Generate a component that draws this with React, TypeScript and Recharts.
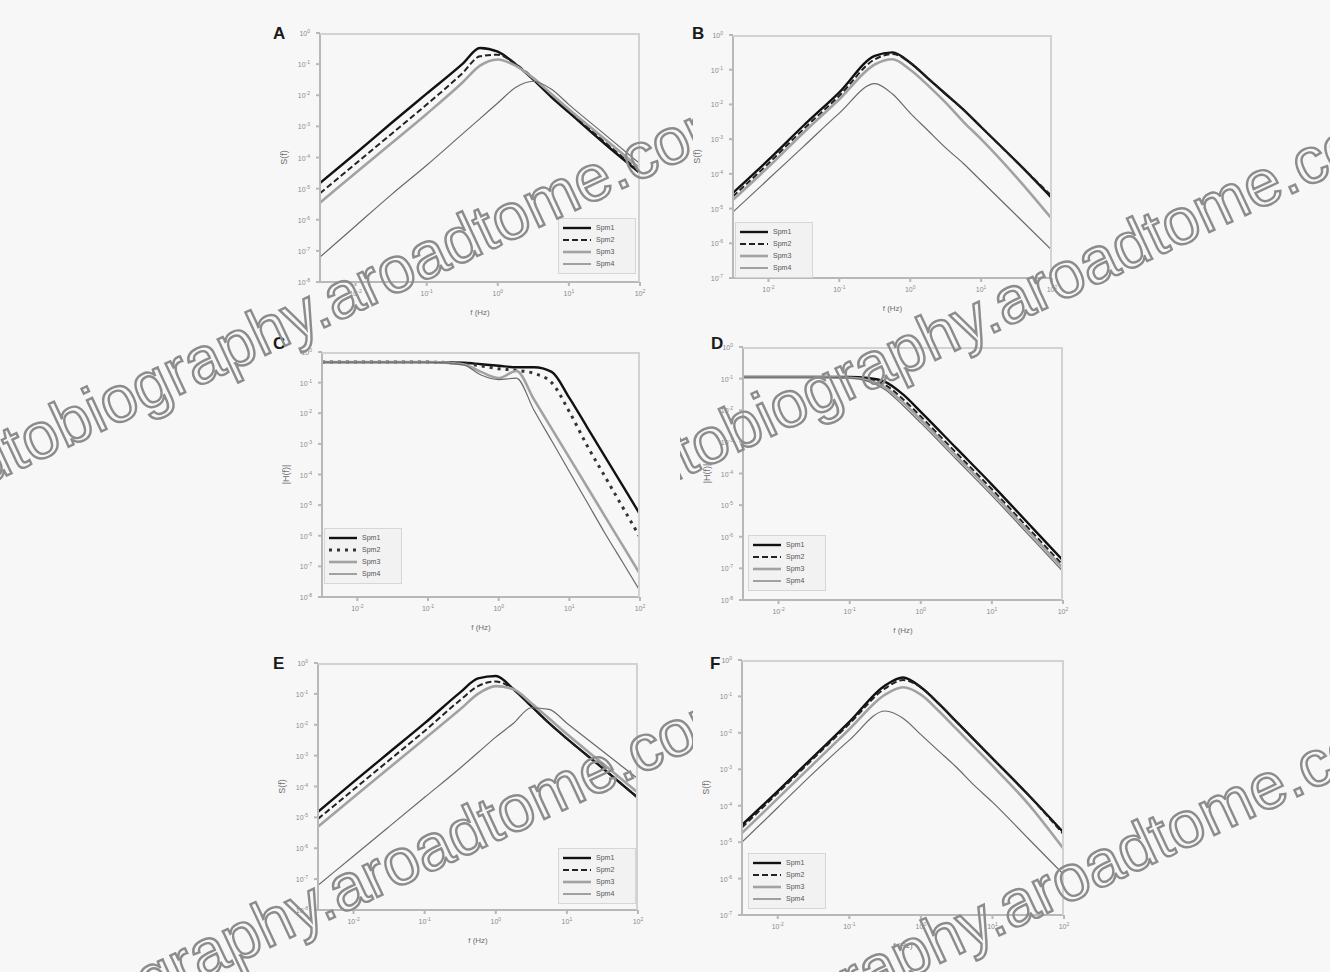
import React from 'react';
import { LineChart, Line, XAxis, YAxis } from 'recharts';

const FONT = '"Liberation Sans", Arial, sans-serif';

// ---------- data (log10 values) ----------
const seriesNames = ['Spm1', 'Spm2', 'Spm3', 'Spm4'];
const xTickExponents = [-2, -1, 0, 1, 2];
const yTicksEight = [-8, -7, -6, -5, -4, -3, -2, -1, 0];
const yTicksSeven = [-7, -6, -5, -4, -3, -2, -1, 0];
const xLabel = 'f (Hz)';
const yLabelSpectrum = 'S(f)';
const yLabelGain = '|H(f)|';

const logFreqPeak = [-2.5, -2, -1.5, -1, -0.5, -0.25, 0, 0.25, 0.5, 0.75, 1, 1.5, 2];
const logFreqC = [-2.5, -2, -1.5, -1, -0.5, -0.25, 0, 0.25, 0.5, 0.75, 1, 1.25, 1.5, 1.75, 2];
const logFreqD = [-2.5, -2, -1.5, -1, -0.75, -0.5, -0.25, 0, 0.5, 1, 1.5, 2];

const a1 = [-4.82, -3.87, -2.9, -1.95, -1.0, -0.48, -0.6, -1.0, -1.5, -2.05, -2.55, -3.55, -4.5];
const a2 = [-5.15, -4.2, -3.25, -2.3, -1.3, -0.75, -0.7, -1.0, -1.45, -2.0, -2.5, -3.5, -4.45];
const a3 = [-5.45, -4.5, -3.55, -2.6, -1.6, -1.05, -0.85, -1.05, -1.45, -1.95, -2.45, -3.4, -4.35];
const a4 = [-7.2, -6.2, -5.2, -4.25, -3.25, -2.75, -2.25, -1.75, -1.55, -1.8, -2.3, -3.25, -4.2];

const b1 = [-4.55, -3.6, -2.6, -1.65, -0.6, -0.5, -0.8, -1.25, -1.7, -2.15, -2.65, -3.65, -4.7];
const b2 = [-4.65, -3.7, -2.7, -1.75, -0.7, -0.55, -0.8, -1.25, -1.7, -2.15, -2.65, -3.65, -4.65];
const b3 = [-4.75, -3.8, -2.8, -1.85, -0.85, -0.7, -1.0, -1.45, -1.95, -2.5, -3.0, -4.1, -5.3];
const b4 = [-5.1, -4.15, -3.2, -2.25, -1.4, -1.7, -2.25, -2.75, -3.25, -3.7, -4.2, -5.2, -6.2];

const c1 = [-0.33, -0.33, -0.33, -0.33, -0.35, -0.4, -0.45, -0.5, -0.5, -0.65, -1.5, -2.45, -3.4, -4.35, -5.3];
const c2 = [-0.33, -0.33, -0.33, -0.33, -0.38, -0.45, -0.55, -0.6, -0.7, -1.0, -1.95, -3.05, -4.05, -5.05, -6.05];
const c3 = [-0.33, -0.33, -0.33, -0.33, -0.4, -0.65, -0.85, -0.62, -1.55, -2.5, -3.45, -4.4, -5.35, -6.3, -7.25];
const c4 = [-0.33, -0.33, -0.33, -0.33, -0.42, -0.75, -0.9, -0.85, -1.9, -2.9, -3.9, -4.9, -5.9, -6.85, -7.8];

const d1 = [-0.95, -0.95, -0.95, -0.95, -0.98, -1.1, -1.5, -2.05, -3.2, -4.35, -5.55, -6.75];
const d2 = [-0.95, -0.95, -0.95, -0.96, -1.02, -1.2, -1.65, -2.2, -3.35, -4.5, -5.7, -6.9];
const d3 = [-0.95, -0.95, -0.95, -0.97, -1.05, -1.28, -1.75, -2.3, -3.45, -4.6, -5.8, -7.0];
const d4 = [-0.95, -0.95, -0.95, -0.98, -1.08, -1.35, -1.85, -2.4, -3.55, -4.7, -5.9, -7.1];

const e1 = [-4.82, -3.85, -2.9, -1.95, -0.95, -0.5, -0.42, -0.85, -1.4, -1.95, -2.45, -3.4, -4.37];
const e2 = [-5.05, -4.1, -3.15, -2.2, -1.2, -0.75, -0.6, -0.85, -1.4, -1.95, -2.45, -3.4, -4.37];
const e3 = [-5.3, -4.35, -3.4, -2.45, -1.5, -1.0, -0.75, -0.85, -1.3, -1.8, -2.3, -3.25, -4.2];
const e4 = [-7.2, -6.25, -5.3, -4.35, -3.4, -2.9, -2.4, -1.95, -1.45, -1.5, -1.95, -2.85, -3.75];

const f1 = [-4.53, -3.6, -2.65, -1.7, -0.7, -0.48, -0.75, -1.2, -1.7, -2.2, -2.7, -3.7, -4.75];
const f2 = [-4.6, -3.65, -2.7, -1.75, -0.78, -0.55, -0.75, -1.2, -1.7, -2.2, -2.7, -3.7, -4.8];
const f3 = [-4.75, -3.8, -2.85, -1.9, -0.95, -0.75, -0.95, -1.4, -1.9, -2.4, -2.9, -3.95, -5.2];
const f4 = [-5.0, -4.05, -3.1, -2.2, -1.4, -1.6, -2.05, -2.5, -2.95, -3.45, -3.9, -4.9, -5.9];

const watermarkText = 'autobiography.aroadtome.com';

// ---------- helpers ----------
function buildRows(freq: number[], s: number[][]) {
  return freq.map((f, i) => ({ f, s1: s[0][i], s2: s[1][i], s3: s[2][i], s4: s[3][i] }));
}

const baseStyles = [
  { stroke: '#111111', strokeWidth: 2.4, strokeDasharray: undefined as string | undefined },
  { stroke: '#222222', strokeWidth: 2, strokeDasharray: '6 3' },
  { stroke: '#a2a2a2', strokeWidth: 2.6, strokeDasharray: undefined },
  { stroke: '#6a6a6a', strokeWidth: 1.2, strokeDasharray: undefined },
];
const dottedStyles = [
  baseStyles[0],
  { stroke: '#333333', strokeWidth: 3, strokeDasharray: '3 5' },
  baseStyles[2],
  baseStyles[3],
];

const panels = [
  { id: 'A', x: 320, y: 33, w: 320, h: 249, yDomain: [-8, 0], yTicks: yTicksEight, data: buildRows(logFreqPeak, [a1, a2, a3, a4]), yLabel: yLabelSpectrum, styles: baseStyles, legend: { x: 558, y: 218 }, letter: { x: 273, y: 24 } },
  { id: 'B', x: 733, y: 35, w: 319, h: 243, yDomain: [-7, 0], yTicks: yTicksSeven, data: buildRows(logFreqPeak, [b1, b2, b3, b4]), yLabel: yLabelSpectrum, styles: baseStyles, legend: { x: 735, y: 222 }, letter: { x: 692, y: 24 } },
  { id: 'C', x: 322, y: 352, w: 318, h: 245, yDomain: [-8, 0], yTicks: yTicksEight, data: buildRows(logFreqC, [c1, c2, c3, c4]), yLabel: yLabelGain, styles: dottedStyles, legend: { x: 324, y: 528 }, letter: { x: 273, y: 334 } },
  { id: 'D', x: 743, y: 347, w: 320, h: 253, yDomain: [-8, 0], yTicks: yTicksEight, data: buildRows(logFreqD, [d1, d2, d3, d4]), yLabel: yLabelGain, styles: baseStyles, legend: { x: 748, y: 535 }, letter: { x: 711, y: 334 } },
  { id: 'E', x: 318, y: 663, w: 320, h: 247, yDomain: [-8, 0], yTicks: yTicksEight, data: buildRows(logFreqPeak, [e1, e2, e3, e4]), yLabel: yLabelSpectrum, styles: baseStyles, legend: { x: 558, y: 848 }, letter: { x: 273, y: 654 } },
  { id: 'F', x: 742, y: 660, w: 322, h: 255, yDomain: [-7, 0], yTicks: yTicksSeven, data: buildRows(logFreqPeak, [f1, f2, f3, f4]), yLabel: yLabelSpectrum, styles: baseStyles, legend: { x: 748, y: 853 }, letter: { x: 710, y: 654 } },
];

const watermarkTiles = [
  { x: -50, y: 502, clip: 'wmL' },
  { x: 620, y: 507, clip: 'wmR' },
  { x: -45, y: 1094, clip: 'wmL' },
  { x: 625, y: 1110, clip: 'wmR' },
];

function XTick(props: any) {
  const { x, y, payload } = props;
  return (
    <text x={x} y={y} textAnchor="middle" fill="#8a8a8a" fontSize={7} fontFamily={FONT} dy={8}>
      10<tspan dy={-3} fontSize={5}>{payload.value}</tspan>
    </text>
  );
}

function YTick(props: any) {
  const { x, y, payload } = props;
  return (
    <text x={x - 4} y={y} textAnchor="end" fill="#8a8a8a" fontSize={7} fontFamily={FONT} dy={3}>
      10<tspan dy={-3} fontSize={5}>{payload.value}</tspan>
    </text>
  );
}

function Panel({ p }: { p: (typeof panels)[number] }) {
  const W = p.w + 50;
  const H = p.h + 45;
  const left = p.x - 40;
  const top = p.y - 10;
  const keys = ['s1', 's2', 's3', 's4'];
  return (
    <div style={{ position: 'absolute', left, top, width: W, height: H }}>
      <LineChart width={W} height={H} data={p.data} margin={{ top: 10, right: 10, bottom: 0, left: 0 }}>
        <XAxis
          dataKey="f"
          type="number"
          domain={[-2.5, 2]}
          ticks={xTickExponents}
          interval={0}
          allowDataOverflow
          height={35}
          stroke="#b8b8b8"
          strokeWidth={2}
          tickSize={4}
          tick={<XTick />}
          label={{ value: xLabel, position: 'insideBottom', offset: 2, fontSize: 8, fill: '#6f6f6f', fontFamily: FONT }}
        />
        <YAxis
          type="number"
          domain={p.yDomain}
          ticks={p.yTicks}
          interval={0}
          allowDataOverflow
          width={40}
          stroke="#b8b8b8"
          strokeWidth={2}
          tickSize={4}
          tick={<YTick />}
          label={{ value: p.yLabel, angle: -90, position: 'insideLeft', offset: 4, fontSize: 9, fill: '#6f6f6f', fontFamily: FONT, style: { textAnchor: 'middle' } }}
        />
        {keys.map((k, i) => (
          <Line
            key={k}
            dataKey={k}
            name={seriesNames[i]}
            type="monotone"
            dot={false}
            isAnimationActive={false}
            stroke={p.styles[i].stroke}
            strokeWidth={p.styles[i].strokeWidth}
            strokeDasharray={p.styles[i].strokeDasharray}
          />
        ))}
      </LineChart>
      <div
        style={{
          position: 'absolute',
          left: 40,
          top: 10,
          width: p.w,
          height: p.h,
          borderTop: '2px solid #d2d2d2',
          borderRight: '2px solid #d2d2d2',
          boxSizing: 'border-box',
          pointerEvents: 'none',
        }}
      />
      <div
        style={{
          position: 'absolute',
          left: p.legend.x - left,
          top: p.legend.y - top,
          width: 70,
          padding: '3px 3px',
          border: '1px solid #d6d6d6',
          background: '#f2f2f2',
          fontFamily: FONT,
          fontSize: 7,
          color: '#555',
          lineHeight: '12px',
        }}
      >
        {seriesNames.map((n, i) => (
          <div key={n} style={{ display: 'flex', alignItems: 'center', height: 12 }}>
            <svg width={30} height={8} style={{ marginRight: 4 }}>
              <line x1={1} y1={4} x2={29} y2={4} stroke={p.styles[i].stroke} strokeWidth={p.styles[i].strokeWidth} strokeDasharray={p.styles[i].strokeDasharray} />
            </svg>
            <span>{n}</span>
          </div>
        ))}
      </div>
    </div>
  );
}

export default function App() {
  return (
    <div style={{ position: 'absolute', left: 0, top: 0, width: 1330, height: 972, background: '#f7f7f7', overflow: 'hidden' }}>
      {panels.map((p) => (
        <Panel key={p.id} p={p} />
      ))}
      {panels.map((p) => (
        <div
          key={'l' + p.id}
          style={{ position: 'absolute', left: p.letter.x, top: p.letter.y, fontFamily: FONT, fontWeight: 700, fontSize: 17, color: '#1a1a1a' }}
        >
          {p.id}
        </div>
      ))}
      <svg width={1330} height={972} style={{ position: 'absolute', left: 0, top: 0, pointerEvents: 'none' }}>
        <defs>
          <clipPath id="wmL">
            <rect x={0} y={0} width={693} height={972} />
          </clipPath>
          <clipPath id="wmR">
            <rect x={680} y={0} width={650} height={972} />
          </clipPath>
        </defs>
        {watermarkTiles.map((t, i) => (
          <g key={i} clipPath={`url(#${t.clip})`}>
            <text
              transform={`translate(${t.x},${t.y}) rotate(-25)`}
              fontFamily={FONT}
              fontSize={65}
              fill="none"
              stroke="#8c8c8c"
              strokeWidth={2.4}
            >
              {watermarkText}
            </text>
          </g>
        ))}
      </svg>
    </div>
  );
}
